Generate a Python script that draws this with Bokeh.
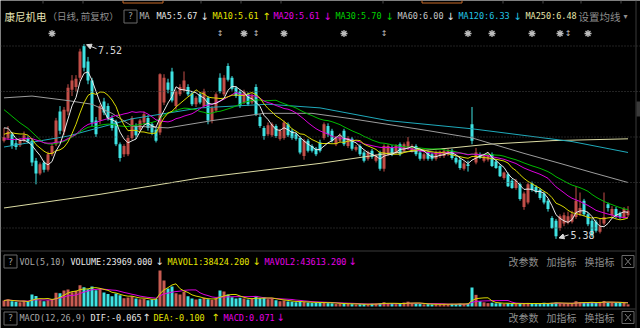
import numpy as np
import pandas as pd
from bokeh.plotting import figure
from bokeh.models import Range1d, Span, Arrow, NormalHead, ColumnDataSource
from bokeh.core.properties import value
from bokeh.embed import file_html
from bokeh.resources import INLINE

# ---------------- data ----------------
stock_name = "康尼机电"

open_ = [6.46, 6.49, 6.53, 6.43, 6.41, 6.46, 6.49, 6.46, 6.24, 6.10,
         6.22, 6.14, 6.31, 6.42, 6.78, 6.56, 6.78, 7.02, 7.05, 7.15,
         7.50, 7.33, 7.12, 6.68, 6.68, 6.89, 6.84, 6.71, 6.67, 6.42,
         6.31, 6.31, 6.49, 6.62, 6.58, 6.66, 6.71, 6.64, 6.58, 6.55,
         6.88, 7.10, 7.22, 6.84, 6.97, 7.01, 7.05, 6.98, 6.86, 6.97,
         6.84, 6.93, 6.68, 6.79, 7.15, 6.97, 7.28, 7.15, 7.04, 7.00,
         6.88, 6.97, 6.88, 7.05, 6.72, 6.60, 6.53, 6.52, 6.62, 6.48,
         6.49, 6.64, 6.57, 6.53, 6.49, 6.29, 6.46, 6.40, 6.37, 6.44,
         6.49, 6.62, 6.57, 6.42, 6.46, 6.57, 6.40, 6.48, 6.36, 6.40,
         6.33, 6.26, 6.35, 6.24, 6.33, 6.15, 6.31, 6.39, 6.33, 6.42,
         6.35, 6.38, 6.35, 6.40, 6.33, 6.26, 6.33, 6.31, 6.26, 6.29,
         6.29, 6.31, 6.35, 6.27, 6.25, 6.15, 6.20, 6.64, 6.22, 6.31,
         6.24, 6.25, 6.31, 6.23, 6.18, 6.05, 6.09, 6.02, 5.94, 5.98,
         5.73, 5.78, 5.99, 5.95, 5.92, 5.88, 5.80, 5.61, 5.58, 5.50,
         5.55, 5.56, 5.57, 5.62, 5.66, 5.80, 5.65, 5.58, 5.57, 5.46,
         5.55, 5.76, 5.64, 5.71, 5.66, 5.62, 5.64]
high = [6.60, 6.62, 6.55, 6.47, 6.49, 6.56, 6.51, 6.48, 6.27, 6.22,
        6.24, 6.34, 6.43, 6.71, 6.84, 6.83, 7.08, 7.18, 7.18, 7.47,
        7.52, 7.38, 7.15, 6.72, 6.86, 6.93, 6.87, 6.74, 6.69, 6.44,
        6.42, 6.52, 6.73, 6.65, 6.70, 6.78, 6.74, 6.66, 6.60, 7.20,
        7.19, 7.14, 7.26, 7.02, 7.08, 7.22, 7.08, 7.00, 6.95, 6.99,
        7.03, 6.95, 6.84, 6.99, 7.20, 7.18, 7.31, 7.17, 7.06, 7.02,
        7.02, 6.99, 6.98, 7.08, 6.75, 6.62, 6.66, 6.66, 6.64, 6.59,
        6.68, 6.66, 6.59, 6.55, 6.51, 6.48, 6.48, 6.42, 6.39, 6.47,
        6.66, 6.65, 6.59, 6.51, 6.54, 6.59, 6.51, 6.50, 6.41, 6.42,
        6.35, 6.35, 6.37, 6.31, 6.35, 6.42, 6.42, 6.41, 6.42, 6.44,
        6.44, 6.50, 6.42, 6.42, 6.35, 6.33, 6.35, 6.33, 6.35, 6.35,
        6.37, 6.37, 6.37, 6.29, 6.27, 6.23, 6.24, 6.83, 6.38, 6.33,
        6.31, 6.33, 6.33, 6.25, 6.20, 6.12, 6.11, 6.04, 6.04, 6.00,
        5.90, 6.00, 6.01, 5.97, 5.94, 5.90, 5.82, 5.63, 5.60, 5.65,
        5.67, 5.68, 5.69, 5.96, 5.89, 5.82, 5.67, 5.60, 5.59, 5.60,
        5.89, 5.78, 5.74, 5.73, 5.68, 5.73, 5.74]
low = [6.44, 6.47, 6.37, 6.36, 6.39, 6.44, 6.43, 6.18, 5.98, 6.08,
       6.11, 6.12, 6.29, 6.40, 6.53, 6.52, 6.74, 6.95, 7.00, 7.12,
       7.22, 7.08, 6.62, 6.50, 6.64, 6.74, 6.68, 6.57, 6.40, 6.23,
       6.28, 6.29, 6.47, 6.48, 6.56, 6.64, 6.57, 6.52, 6.44, 6.52,
       6.85, 6.98, 6.88, 6.80, 6.95, 6.99, 6.95, 6.84, 6.83, 6.86,
       6.82, 6.64, 6.65, 6.77, 6.98, 6.95, 7.11, 7.01, 6.93, 6.82,
       6.86, 6.84, 6.86, 6.73, 6.60, 6.47, 6.51, 6.50, 6.49, 6.46,
       6.47, 6.50, 6.47, 6.46, 6.31, 6.25, 6.33, 6.33, 6.29, 6.33,
       6.47, 6.50, 6.44, 6.40, 6.44, 6.40, 6.38, 6.35, 6.34, 6.29,
       6.22, 6.24, 6.26, 6.22, 6.13, 6.12, 6.29, 6.29, 6.31, 6.29,
       6.33, 6.36, 6.33, 6.29, 6.24, 6.24, 6.24, 6.24, 6.24, 6.27,
       6.27, 6.29, 6.25, 6.20, 6.14, 6.13, 6.12, 6.42, 6.20, 6.26,
       6.22, 6.23, 6.17, 6.15, 6.06, 6.03, 5.95, 5.93, 5.92, 5.80,
       5.70, 5.76, 5.90, 5.88, 5.81, 5.76, 5.68, 5.49, 5.38, 5.47,
       5.52, 5.54, 5.55, 5.60, 5.63, 5.63, 5.52, 5.40, 5.45, 5.44,
       5.53, 5.68, 5.62, 5.61, 5.60, 5.60, 5.62]
close = [6.50, 6.56, 6.40, 6.39, 6.46, 6.52, 6.45, 6.22, 6.10, 6.20,
         6.14, 6.31, 6.40, 6.68, 6.57, 6.80, 7.04, 7.12, 7.14, 7.44,
         7.26, 7.12, 6.66, 6.53, 6.84, 6.77, 6.71, 6.60, 6.42, 6.27,
         6.40, 6.49, 6.71, 6.52, 6.68, 6.75, 6.60, 6.55, 6.46, 7.19,
         7.15, 7.02, 6.90, 7.00, 7.05, 7.12, 6.97, 6.86, 6.93, 6.88,
         7.00, 6.68, 6.82, 6.97, 7.00, 7.15, 7.13, 7.03, 6.95, 6.84,
         7.00, 6.86, 6.95, 6.75, 6.62, 6.51, 6.63, 6.64, 6.51, 6.57,
         6.66, 6.52, 6.49, 6.48, 6.33, 6.46, 6.35, 6.35, 6.31, 6.35,
         6.64, 6.53, 6.46, 6.49, 6.51, 6.42, 6.49, 6.37, 6.39, 6.31,
         6.24, 6.33, 6.28, 6.29, 6.15, 6.40, 6.40, 6.31, 6.40, 6.31,
         6.42, 6.45, 6.40, 6.31, 6.26, 6.31, 6.26, 6.26, 6.33, 6.33,
         6.35, 6.35, 6.27, 6.22, 6.16, 6.21, 6.18, 6.46, 6.33, 6.27,
         6.29, 6.31, 6.18, 6.16, 6.07, 6.11, 5.96, 5.94, 6.02, 5.82,
         5.88, 5.98, 5.92, 5.90, 5.83, 5.78, 5.71, 5.50, 5.41, 5.63,
         5.64, 5.63, 5.65, 5.80, 5.72, 5.65, 5.54, 5.42, 5.47, 5.52,
         5.62, 5.72, 5.71, 5.63, 5.62, 5.71, 5.69]
# closes before the first visible day (only feed the moving averages)
pre_close = [7.60, 7.52, 7.48, 7.55, 7.42, 7.38, 7.45, 7.36, 7.40, 7.24,
             6.62, 6.48, 6.40, 6.35, 6.42, 6.38, 6.30, 6.41, 6.45, 6.49,
             6.42, 6.38, 6.47, 6.51, 6.52, 6.58, 6.66, 6.70, 6.56]
volume = [66000, 77000, 58000, 52000, 47000, 63000, 54000, 132000, 115000, 68000,
          57000, 70000, 79000, 152000, 146000, 176000, 188000, 158000, 172000, 234000,
          212000, 190000, 221000, 178000, 196000, 155000, 137000, 112000, 143000, 124000,
          91000, 98000, 113000, 88000, 79000, 86000, 69000, 76000, 84000, 396000,
          287000, 198000, 219000, 146000, 131000, 163000, 112000, 89000, 78000, 86000,
          97000, 80000, 71000, 88000, 175000, 164000, 133000, 101000, 87000, 95000,
          89000, 77000, 84000, 112000, 92000, 99000, 81000, 86000, 69000, 58000,
          66000, 55000, 53000, 47000, 56000, 49000, 44000, 38000, 42000, 45000,
          48000, 37000, 35000, 27000, 31000, 36000, 28000, 26000, 22000, 25000,
          27000, 24000, 30000, 29000, 36000, 47000, 34000, 31000, 26000, 28000,
          44000, 53000, 35000, 32000, 27000, 24000, 26000, 23000, 25000, 24000,
          27000, 26000, 28000, 26000, 31000, 27000, 33000, 209000, 128000, 58000,
          46000, 37000, 42000, 35000, 38000, 29000, 36000, 28000, 27000, 37000,
          33000, 39000, 29000, 27000, 34000, 41000, 38000, 40000, 43000, 35000,
          31000, 33000, 34000, 58000, 47000, 42000, 39000, 46000, 42000, 51000,
          61011, 44000, 41500, 38700, 44800, 43152, 23969]

# long moving averages (day index, value)
ma60_idx = [0, 7, 16, 22, 27, 32, 41, 52, 65, 77, 87, 106, 117, 130, 139, 147, 156]
ma60_val = [6.93, 6.95, 6.90, 6.86, 6.76, 6.62, 6.60, 6.68, 6.76, 6.76, 6.70, 6.57, 6.49, 6.32, 6.21, 6.11, 6.00]
ma120_idx = [0, 16, 32, 49, 66, 79, 96, 117, 126, 142, 156]
ma120_val = [6.39, 6.51, 6.70, 6.82, 6.86, 6.82, 6.68, 6.59, 6.54, 6.45, 6.33]
ma250_idx = [0, 24, 49, 79, 96, 112, 121, 137, 156]
ma250_val = [5.72, 5.87, 6.05, 6.21, 6.32, 6.38, 6.42, 6.46, 6.48]

grid_levels = [7.5, 7.0, 6.5, 6.0, 5.5]
star_idx = [12, 60, 70, 85, 116, 122, 132, 139, 146]
updown_idx = [54, 63, 95, 141]

# ---------------- styles ----------------
BG = "#000000"
RED = "#c24e48"
CYAN = "#3fe2e2"
VRED = "#c85c52"
C_MA5 = "#e8e8e8"
C_MA10 = "#d8d800"
C_MA20 = "#dc00dc"
C_MA30 = "#00bb00"
C_MA60 = "#9c9c9c"
C_MA120 = "#1faabb"
C_MA250 = "#dcdca4"
GRAY_TXT = "#8e8e8e"
SEP = "#3a3a3a"
MONO = "DejaVu Sans Mono"
CJK = "Noto Sans CJK SC"

PX_PRICE = 91.0   # pixels per 1.00 of price
PX_IDX = 4.0      # pixels per day

n = len(close)
xi = np.arange(n)
o = np.array(open_); h = np.array(high); lo = np.array(low); c = np.array(close)
up = c >= o
col = np.where(up, RED, CYAN).tolist()
vcol = np.where(up, VRED, CYAN).tolist()
top = np.maximum(o, c)
bot = np.minimum(o, c)
top = np.where(top - bot < 1.0 / PX_PRICE, bot + 1.0 / PX_PRICE, top)

allc = pd.Series(pre_close + close, dtype=float)
ma = {k: allc.rolling(k).mean().to_numpy()[len(pre_close):] for k in (5, 10, 20, 30)}
vs = pd.Series(volume, dtype=float)
mavol1 = vs.rolling(5, min_periods=1).mean().to_numpy()
mavol2 = vs.rolling(10, min_periods=1).mean().to_numpy()

src = ColumnDataSource(dict(x=xi, h=h, l=lo, top=top, bot=bot, col=col, vcol=vcol, vol=volume))

# ---------------- figure ----------------
p = figure(width=640, height=328,
           x_range=Range1d(-0.875, 159.125),
           y_range=Range1d(8.0 - 328 / PX_PRICE, 8.0),
           output_backend="svg", toolbar_location=None,
           x_axis_type=None, y_axis_type=None,
           min_border=0, min_border_left=0, min_border_right=0,
           min_border_top=0, min_border_bottom=0,
           background_fill_color=BG, border_fill_color=BG,
           outline_line_color=None)
VPX = 11000.0  # volume per pixel
p.extra_y_ranges = {"vol": Range1d(-22 * VPX, 306 * VPX), "px": Range1d(328, 0)}
p.extra_x_ranges = {"px": Range1d(0, 640)}

for g in grid_levels:
    p.add_layout(Span(location=g, dimension="width", line_color="#464646",
                      line_dash="1 2", line_width=1))

# candles
p.segment(x0="x", y0="l", x1="x", y1="h", line_color="col", line_width=1, source=src)
p.vbar(x="x", width=0.75, top="top", bottom="bot", fill_color="col", line_color=None, source=src)

# moving averages
p.line(ma250_idx, ma250_val, line_color=C_MA250, line_width=1)
p.line(ma120_idx, ma120_val, line_color=C_MA120, line_width=1)
p.line(ma60_idx, ma60_val, line_color=C_MA60, line_width=1)
p.line(xi, ma[30], line_color=C_MA30, line_width=1)
p.line(xi, ma[20], line_color=C_MA20, line_width=1)
p.line(xi, ma[10], line_color=C_MA10, line_width=1)
p.line(xi, ma[5], line_color=C_MA5, line_width=1)

# volume
p.vbar(x="x", width=0.75, top="vol", bottom=0, fill_color="vcol", line_color=None,
       source=src, y_range_name="vol")
p.line(xi, mavol2, line_color=C_MA20, line_width=1, y_range_name="vol")
p.line(xi, mavol1, line_color=C_MA10, line_width=1, y_range_name="vol")

# max / min markers
imax = int(np.argmax(h)); imin = int(np.argmin(lo))
MK = "#d8d8d8"
p.add_layout(Arrow(end=NormalHead(size=5, line_color=MK, fill_color=MK),
                   x_start=imax + 12.5 / PX_IDX, y_start=h[imax] - 4.5 / PX_PRICE,
                   x_end=imax + 2.5 / PX_IDX, y_end=h[imax] - 0.5 / PX_PRICE,
                   line_color=MK, line_width=1))
p.text(x=[imax + 14 / PX_IDX], y=[h[imax] - 5.5 / PX_PRICE], text=[f"{h[imax]:.2f}"],
       text_color=MK, text_font=value(MONO), text_font_size="10px",
       text_baseline="middle", text_align="left")
p.add_layout(Arrow(end=NormalHead(size=5, line_color=MK, fill_color=MK),
                   x_start=imin + 12.5 / PX_IDX, y_start=lo[imin] + 4.0 / PX_PRICE,
                   x_end=imin + 3.0 / PX_IDX, y_end=lo[imin] + 1.0 / PX_PRICE,
                   line_color=MK, line_width=1))
p.text(x=[imin + 14.5 / PX_IDX], y=[lo[imin] + 3.9 / PX_PRICE], text=[f"{lo[imin]:.2f}"],
       text_color=MK, text_font=value(MONO), text_font_size="10px",
       text_baseline="middle", text_align="left")

# event markers
p.scatter(x=star_idx, y=[33] * len(star_idx), marker="asterisk", size=7,
          line_color="#bdbdbd", line_width=1.3, y_range_name="px")
p.scatter(x=star_idx, y=[33] * len(star_idx), marker="circle", size=3.5,
          fill_color="#bdbdbd", line_color=None, y_range_name="px")
p.text(x=updown_idx, y=[33] * len(updown_idx), text=["↕"] * len(updown_idx),
       text_color="#bdbdbd", text_font=value("DejaVu Sans"), text_font_size="8px",
       text_baseline="middle", text_align="center", y_range_name="px")

# ---------------- frame decorations (pixel space) ----------------
def seg(x0, y0, x1, y1, color=SEP):
    p.segment(x0=[x0], y0=[y0], x1=[x1], y1=[y1], line_color=color, line_width=1,
              x_range_name="px", y_range_name="px")

def box(l, t, r, b, color="#6a6a6a"):
    p.quad(left=[l], right=[r], top=[t], bottom=[b], fill_color=None,
           line_color=color, line_width=1, x_range_name="px", y_range_name="px")

def txt(x, y, s, color, size="8.5px", font=MONO, align="left"):
    p.text(x=[x], y=[y], text=[s], text_color=color, text_font=value(font),
           text_font_size=size, text_baseline="middle", text_align=align,
           x_range_name="px", y_range_name="px")

seg(0, 250.5, 635, 250.5)
seg(0, 308.5, 635, 308.5)
seg(635.5, 0, 635.5, 328)
p.quad(left=[636], right=[640], top=[101], bottom=[116], fill_color="#3a3a3a",
       line_color=None, x_range_name="px", y_range_name="px")
for tx in [42.5, 82.5, 200.5, 240.5, 280.5, 382.5, 502.5, 542.5, 580.5, 620.5]:
    seg(tx, 0, tx, 3, "#4a4a4a")
for ox in [122.5, 421.5]:
    box(ox, -2, ox + 40, 2.5, "#c86a28")

# title row
TY = 15.5
txt(4, TY, stock_name, "#e6e4b4", "10.5px", CJK)
txt(47, TY, "（日线, 前复权）", GRAY_TXT, "9.5px", CJK)
box(123.5, 9.5, 136.5, 22.5)
txt(130, TY, "?", "#9a9a9a", "9px", MONO, "center")
txt(139, TY, "MA", "#b4b4b4")
items = [(156, "MA5:5.67", C_MA5, 204, "↓"),
         (212, "MA10:5.61", "#e6e600", 266, "↑"),
         (273, "MA20:5.61", "#e600e6", 327, "↓"),
         (335, "MA30:5.70", "#00d200", 389, "↓"),
         (397, "MA60:6.00", "#c8c8c8", 450, "↓"),
         (458, "MA120:6.33", "#22c4e6", 517, "↓"),
         (525, "MA250:6.48", "#e6e6aa", None, None)]
for x0, s, cc, ax, a in items:
    txt(x0, TY, s, cc)
    if a:
        txt(ax, TY, a, cc if cc != "#c8c8c8" else "#e8e8e8", "10px", "DejaVu Sans", "center")
txt(578, TY, "设置均线", GRAY_TXT, "10.5px", CJK)
txt(625, TY, "▾", GRAY_TXT, "8px", "DejaVu Sans", "center")

# volume row
VY = 261
box(3.5, 254.5, 16.5, 267.5)
txt(10, VY, "?", "#9a9a9a", "9px", MONO, "center")
txt(19, VY, "VOL(5,10)", "#a8a8a8")
txt(70, VY, "VOLUME:23969.000", "#e8e8e8")
txt(159, VY, "↓", "#e8e8e8", "10px", "DejaVu Sans", "center")
txt(167, VY, "MAVOL1:38424.200", "#e6e600")
txt(256, VY, "↓", "#e6e600", "10px", "DejaVu Sans", "center")
txt(264, VY, "MAVOL2:43613.200", "#e600e6")
txt(352, VY, "↓", "#e600e6", "10px", "DejaVu Sans", "center")

# macd row
MY = 317
box(3.5, 311.5, 16.5, 324.5)
txt(10, MY, "?", "#9a9a9a", "9px", MONO, "center")
txt(19, MY, "MACD(12,26,9)", "#a8a8a8")
txt(90, MY, "DIF:-0.065", "#e8e8e8")
txt(146, MY, "↑", "#e8e8e8", "10px", "DejaVu Sans", "center")
txt(153, MY, "DEA:-0.100", "#e6e600")
txt(215, MY, "↑", "#e6e600", "10px", "DejaVu Sans", "center")
txt(223, MY, "MACD:0.071", "#e600e6")
txt(280, MY, "↓", "#e600e6", "10px", "DejaVu Sans", "center")

for yy in (VY, MY):
    txt(508, yy, "改参数", GRAY_TXT, "10px", CJK)
    txt(546, yy, "加指标", GRAY_TXT, "10px", CJK)
    txt(584, yy, "换指标", GRAY_TXT, "10px", CJK)
    box(621.5, yy - 6, 633.5, yy + 6)
    seg(624.5, yy - 3.5, 630.5, yy + 3.5, "#7a7a7a")
    seg(624.5, yy + 3.5, 630.5, yy - 3.5, "#7a7a7a")

open("out.html", "w").write(file_html(p, INLINE))
